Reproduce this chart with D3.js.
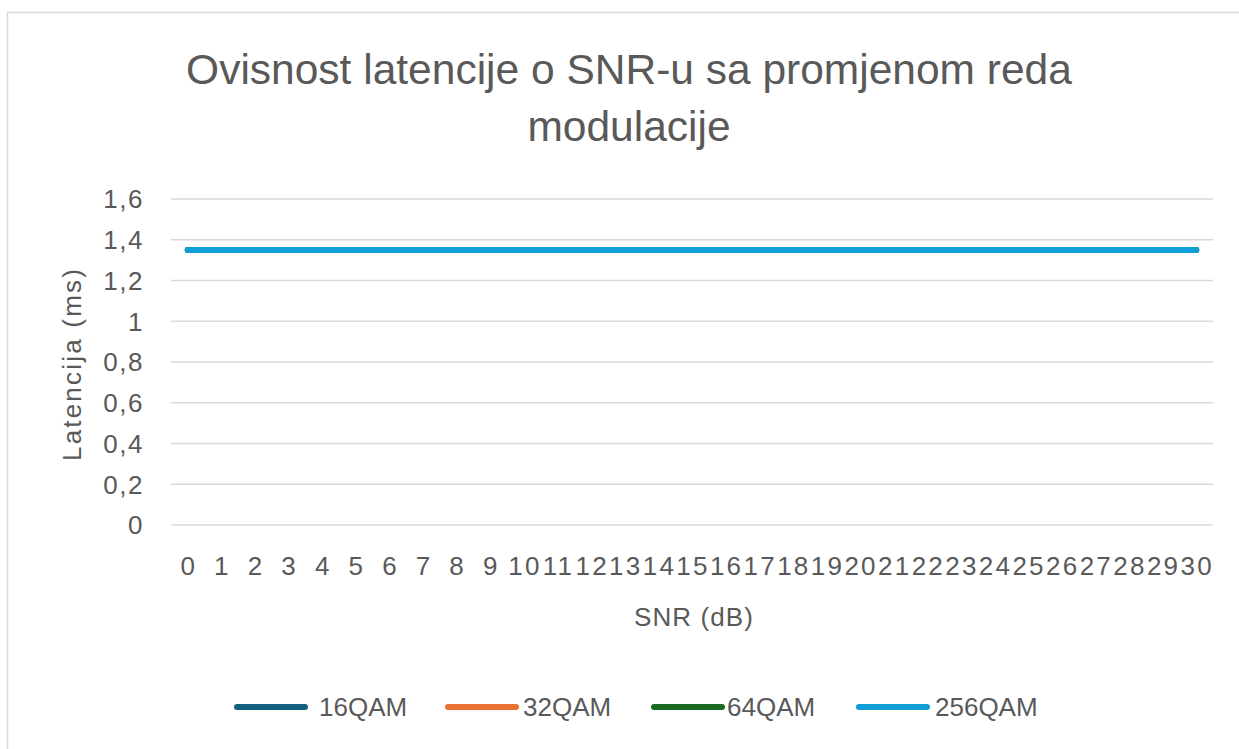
<!DOCTYPE html>
<html>
<head>
<meta charset="utf-8">
<script src="https://cdn.jsdelivr.net/npm/d3@7"></script>
<style>
  html, body { margin: 0; padding: 0; background: #fff; }
  svg { display: block; }
</style>
</head>
<body>
<div id="chart"></div>
<script>
const snr = d3.range(0, 31);
const seriesNames = ['16QAM', '32QAM', '64QAM', '256QAM'];
const seriesColors = ['#156082', '#E97132', '#196B24', '#0F9ED5'];
// latency (ms), identical for every modulation order
const lat16 = Array(31).fill(1.35);
const lat32 = Array(31).fill(1.35);
const lat64 = Array(31).fill(1.35);
const lat256 = Array(31).fill(1.35);
const yTicks = [0, 0.2, 0.4, 0.6, 0.8, 1, 1.2, 1.4, 1.6];
const titleLines = ['Ovisnost latencije o SNR-u sa promjenom reda', 'modulacije'];

const width = 1239, height = 749;
const plot = { left: 171, right: 1213, top: 199, bottom: 525 };
const textColor = '#595959';
const font = 'Liberation Sans, Arial, sans-serif';

const svg = d3.select('#chart').append('svg')
    .attr('width', width)
    .attr('height', height);

svg.append('rect')
    .attr('x', 7.5).attr('y', 12.5)
    .attr('width', width).attr('height', height)
    .attr('fill', '#fff')
    .attr('stroke', '#d9d9d9')
    .attr('stroke-width', 1.5);

const x = d3.scaleBand().domain(snr).range([plot.left, plot.right]);
const y = d3.scaleLinear().domain([0, 1.6]).range([plot.bottom, plot.top]);

// gridlines
svg.append('g')
    .selectAll('line')
    .data(yTicks)
    .enter()
    .append('line')
    .attr('x1', plot.left).attr('x2', plot.right)
    .attr('y1', d => y(d)).attr('y2', d => y(d))
    .attr('stroke', '#d9d9d9')
    .attr('stroke-width', 1.5);

// y tick labels
svg.append('g')
    .selectAll('text')
    .data(yTicks)
    .enter()
    .append('text')
    .attr('x', 144)
    .attr('y', d => y(d))
    .attr('dy', '0.36em')
    .attr('text-anchor', 'end')
    .attr('font-family', font)
    .attr('font-size', 26)
    .attr('letter-spacing', 1.5)
    .attr('fill', textColor)
    .text(d => String(d).replace('.', ','));

// x tick labels
svg.append('g')
    .selectAll('text')
    .data(snr)
    .enter()
    .append('text')
    .attr('x', d => x(d) + x.bandwidth() / 2 + 1)
    .attr('y', 566)
    .attr('dy', '0.36em')
    .attr('text-anchor', 'middle')
    .attr('font-family', font)
    .attr('font-size', 26)
    .attr('letter-spacing', 2.2)
    .attr('fill', textColor)
    .text(d => d);

// axis titles
svg.append('text')
    .attr('x', 694)
    .attr('y', 617)
    .attr('dy', '0.36em')
    .attr('text-anchor', 'middle')
    .attr('font-family', font)
    .attr('font-size', 26)
    .attr('letter-spacing', 1.1)
    .attr('fill', textColor)
    .text('SNR (dB)');

svg.append('text')
    .attr('transform', 'translate(72,364) rotate(-90)')
    .attr('dy', '0.36em')
    .attr('text-anchor', 'middle')
    .attr('font-family', font)
    .attr('font-size', 26)
    .attr('letter-spacing', 2.2)
    .attr('fill', textColor)
    .text('Latencija (ms)');

// title
svg.append('g')
    .selectAll('text')
    .data(titleLines)
    .enter()
    .append('text')
    .attr('x', 629)
    .attr('y', (d, i) => 84 + i * 57)
    .attr('text-anchor', 'middle')
    .attr('font-family', font)
    .attr('font-size', 42.5)
    .attr('fill', textColor)
    .text(d => d);

// series lines (all overlap, last one on top)
const seriesData = [lat16, lat32, lat64, lat256];
const line = d3.line()
    .x((d, i) => x(snr[i]) + x.bandwidth() / 2)
    .y(d => y(d));

svg.append('g')
    .selectAll('path')
    .data(seriesData)
    .enter()
    .append('path')
    .attr('d', d => line(d))
    .attr('fill', 'none')
    .attr('stroke', (d, i) => seriesColors[i])
    .attr('stroke-width', 6)
    .attr('stroke-linecap', 'round')
    .attr('stroke-linejoin', 'round');

// legend
const legendX = [234, 445, 651, 856];
const legendTextX = [319, 523, 727, 935];
const legend = svg.append('g')
    .selectAll('g')
    .data(seriesNames)
    .enter()
    .append('g');

legend.append('line')
    .attr('x1', (d, i) => legendX[i] + 3)
    .attr('x2', (d, i) => legendX[i] + 71)
    .attr('y1', 707).attr('y2', 707)
    .attr('stroke', (d, i) => seriesColors[i])
    .attr('stroke-width', 6)
    .attr('stroke-linecap', 'round');

legend.append('text')
    .attr('x', (d, i) => legendTextX[i])
    .attr('y', 707)
    .attr('dy', '0.36em')
    .attr('font-family', 'Liberation Sans Narrow, Liberation Sans, sans-serif')
    .attr('font-size', 26)
    .attr('fill', textColor)
    .text(d => d);
</script>
</body>
</html>
